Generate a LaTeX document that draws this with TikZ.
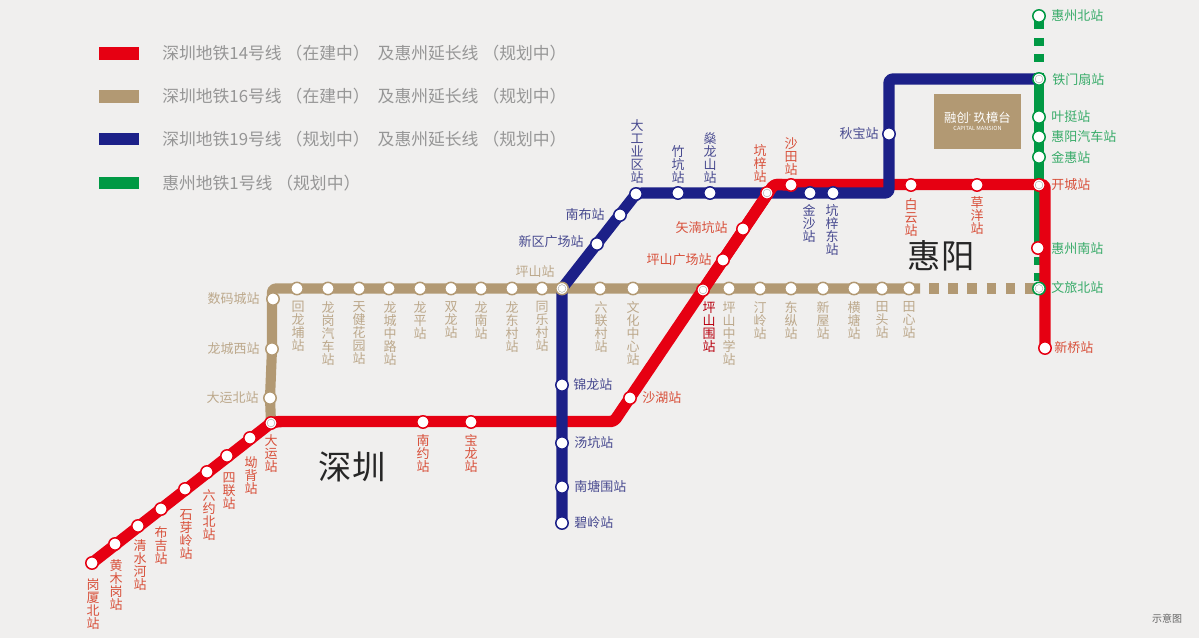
\documentclass[tikz,border=0pt]{standalone}
\usepackage{fontspec}
\setmainfont{Noto Sans CJK SC}
\usetikzlibrary{backgrounds}
\pgfdeclarelayer{lines}
\pgfsetlayers{background,lines,main}
\definecolor{bgc}{HTML}{F0EFEE}
\definecolor{redc}{HTML}{E60012}
\definecolor{tanc}{HTML}{B29973}
\definecolor{bluec}{HTML}{1C2088}
\definecolor{greenc}{HTML}{009944}
\definecolor{redt}{HTML}{D8503A}
\definecolor{tant}{HTML}{BCA88B}
\definecolor{bluet}{HTML}{47498F}
\definecolor{greent}{HTML}{38AB69}
\definecolor{legt}{HTML}{969696}
\newcommand{\labfont}{\fontsize{9.75}{9.75}\selectfont\lineskiplimit=-20pt\relax}
\tikzset{
  sta/.style={circle,fill=white,draw=#1,line width=1.15pt,minimum size=9.3pt,inner sep=0pt},
  xsta/.style={sta=#1,path picture={\draw[black!35,line width=.35pt] (path picture bounding box.center) circle (2.9pt);}},
  lab/.style={inner sep=0pt,font=\labfont,align=center,text=#1},
  vlab/.style={lab=#1,anchor=north,yshift=-1pt},
  blab/.style={lab=#1,anchor=south},
  rlab/.style={lab=#1,anchor=east},
  llab/.style={lab=#1,anchor=west},
  redline/.style={draw=redc,line width=8.6pt,line join=round,rounded corners=2.5pt},
  tanline/.style={draw=tanc,line width=7.6pt,line join=round,rounded corners=2.5pt},
  blueline/.style={draw=bluec,line width=8.4pt,line join=round,rounded corners=2.5pt},
  greenline/.style={draw=greenc,line width=7.4pt},
  swatch/.style={inner sep=0pt,minimum width=30pt,minimum height=9.6pt,anchor=west},
  legend/.style={inner sep=0pt,anchor=west,text=legt,font=\fontsize{12.6}{12.6}\selectfont},
  city/.style={inner sep=0pt,text=black!85,font=\fontsize{25}{25}\selectfont},
}
\begin{document}
\begin{tikzpicture}[x=0.75pt,y=-0.75pt]
\useasboundingbox (0,0) rectangle (1199,638);
\begin{pgfonlayer}{background}
\fill[bgc] (0,0) rectangle (1199,638);
\end{pgfonlayer}

% legend
\node[swatch,fill=redc] (k1) at (99,53.5) {};
\node[swatch,fill=tanc] (k2) at (99,96.5) {};
\node[swatch,fill=bluec] (k3) at (99,139) {};
\node[swatch,fill=greenc] (k4) at (99,183) {};
\node[legend] (t1) at (162,53) {深圳地铁14号线\kern3pt（在建中）\kern6pt及惠州延长线\kern3pt（规划中）};
\node[legend] (t2) at (162,96) {深圳地铁16号线\kern3pt（在建中）\kern6pt及惠州延长线\kern3pt（规划中）};
\node[legend] (t3) at (162,139) {深圳地铁19号线\kern3pt（规划中）\kern6pt及惠州延长线\kern3pt（规划中）};
\node[legend] (t4) at (162,183) {惠州地铁1号线\kern3pt（规划中）};

% logo
\node[fill=tanc,minimum width=65.25pt,minimum height=41.25pt,inner sep=0pt] (logo) at (977.5,121.5) {};
\node[inner sep=0pt,text=white,font=\fontsize{9.3}{9.3}\selectfont] (logo1) at (977.5,118) {融创\raisebox{3pt}{\fontsize{4}{4}\selectfont °} 玖樟台};
\node[inner sep=0pt,text=white,font=\fontsize{4.2}{4.2}\selectfont] (logo2) at (977.5,128.5) {CAPITAL MANSION};

% cities
\node[city] (sz) at (352,467) {深圳};
\node[city] (hy) at (941,256) {惠阳};
\node[inner sep=0pt,text=black!60,font=\fontsize{7.5}{7.5}\selectfont] (note) at (1167,619) {示意图};

% red stations
\node[sta=redc] (gx) at (92,563) {};
\node[sta=redc] (hm) at (115,544) {};
\node[sta=redc] (qs) at (138,526) {};
\node[sta=redc] (bj) at (161,509) {};
\node[sta=redc] (sy) at (185,489) {};
\node[sta=redc] (ly) at (207,472) {};
\node[sta=redc] (sl) at (227,456) {};
\node[sta=redc] (ab) at (250,438) {};
\node[xsta=redc] (dy) at (271,423) {};
\node[sta=redc] (ny) at (423,422) {};
\node[sta=redc] (bl) at (471,422) {};
\node[sta=redc] (sh) at (630,398) {};
\node[xsta=redc] (pw) at (703,290) {};
\node[sta=redc] (pg) at (723,260) {};
\node[sta=redc] (sn) at (743,229) {};
\node[xsta=redc] (kz) at (767,193) {};
\node[sta=redc] (st) at (791,185) {};
\node[sta=redc] (by) at (911,185) {};
\node[sta=redc] (cy) at (977,185) {};
\node[xsta=redc] (kc) at (1039,185) {};
\node[sta=redc] (hn) at (1038,248) {};
\node[sta=redc] (xq) at (1045,348) {};

% tan stations
\node[sta=tanc] (sm) at (273,299) {};
\node[sta=tanc] (lx) at (272,349) {};
\node[sta=tanc] (db) at (270,398) {};
\node[sta=tanc] (hl) at (297,288.5) {};
\node[sta=tanc] (lq) at (328,288.5) {};
\node[sta=tanc] (tj) at (359,288.5) {};
\node[sta=tanc] (lc) at (389,288.5) {};
\node[sta=tanc] (lp) at (420,288.5) {};
\node[sta=tanc] (sg) at (451,288.5) {};
\node[sta=tanc] (ln) at (481,288.5) {};
\node[sta=tanc] (ld) at (512,288.5) {};
\node[sta=tanc] (tl) at (542,288.5) {};
\node[xsta=tanc] (ps) at (562,288.5) {};
\node[sta=tanc] (lh) at (600,288.5) {};
\node[sta=tanc] (wh) at (633,288.5) {};
\node[sta=tanc] (pz) at (729,288.5) {};
\node[sta=tanc] (tg) at (760,288.5) {};
\node[sta=tanc] (dz) at (791,288.5) {};
\node[sta=tanc] (xw) at (823,288.5) {};
\node[sta=tanc] (ht) at (854,288.5) {};
\node[sta=tanc] (tt) at (882,288.5) {};
\node[sta=tanc] (tx) at (909,288.5) {};

% blue stations
\node[sta=bluec] (bi) at (562,523) {};
\node[sta=bluec] (nt) at (562,487) {};
\node[sta=bluec] (tk) at (562,443) {};
\node[sta=bluec] (jl) at (562,385) {};
\node[sta=bluec] (xq2) at (597,244) {};
\node[sta=bluec] (nb) at (620,215) {};
\node[sta=bluec] (dg) at (636,194) {};
\node[sta=bluec] (zk) at (678,193) {};
\node[sta=bluec] (sl2) at (710,193) {};
\node[sta=bluec] (js) at (810,193) {};
\node[sta=bluec] (kd) at (833,193) {};
\node[sta=bluec] (qb) at (889,134) {};

% green stations
\node[sta=greenc] (hb) at (1039,16) {};
\node[xsta=greenc] (tm) at (1039,79) {};
\node[sta=greenc] (yt) at (1039,117) {};
\node[sta=greenc] (hq) at (1039,137) {};
\node[sta=greenc] (jh) at (1039,157) {};
\node[xsta=greenc] (wl) at (1039,288.5) {};

% helper points on the lines
\coordinate (rA) at (278,421.5);
\coordinate (rB) at (614,421.5);
\coordinate (rC) at (774,184.5);
\coordinate (rD) at (1045,184.5);
\coordinate (aC) at (272,288.5);
\coordinate (aE) at (920,288.5);
\coordinate (aF) at (929,288.5);
\coordinate (bA) at (639,193);
\coordinate (bB) at (889,193);
\coordinate (bC) at (889,79);
\coordinate (gA) at (1039,29);
\coordinate (gB) at (1039,38);
\coordinate (gC) at (1039,62);
\coordinate (gD) at (1039,73);
\coordinate (gE) at (1039,243);
\coordinate (gF) at (1039,257);

\begin{pgfonlayer}{lines}
  \draw[tanline] (dy.center) -- (db.center) -- (lx.center) -- (aC) -- (aE);
  \draw[tanline,rounded corners=0pt,dash pattern=on 7.2pt off 7.2pt] (aF) -- (wl.center);
  \draw[greenline] (hb.center) -- (gA);
  \draw[greenline,dash pattern=on 6pt off 6pt] (gB) -- (gC);
  \draw[greenline] (gD) -- (gE);
  \draw[greenline,dash pattern=on 6pt off 6pt] (gF) -- (wl.center);
  \draw[redline] (gx.center) -- (dy.center) -- (rA) -- (rB) -- (rC) -- (rD) -- (xq.center);
  \draw[blueline] (bi.center) -- (ps.center) -- (dg.center) -- (bA) -- (bB) -- (bC) -- (tm.center);
  \draw[redline] (pw.center) -- (rC) -- (st.center);
\end{pgfonlayer}

% red labels
\node[vlab=redt] (Lgx) at (93,577) {岗\\厦\\北\\站};
\node[vlab=redt] (Lhm) at (116,558) {黄\\木\\岗\\站};
\node[vlab=redt] (Lqs) at (140,538) {清\\水\\河\\站};
\node[vlab=redt] (Lbj) at (161,525) {布\\吉\\站};
\node[vlab=redt] (Lsy) at (186,508) {石\\芽\\岭\\站};
\node[vlab=redt] (Lly) at (209,488) {六\\约\\北\\站};
\node[vlab=redt] (Lsl) at (229,471) {四\\联\\站};
\node[vlab=redt] (Lab) at (251,455) {坳\\背\\站};
\node[vlab=redt] (Ldy) at (271,433) {大\\运\\站};
\node[vlab=redt] (Lny) at (423,433) {南\\约\\站};
\node[vlab=redt] (Lbl) at (471,433) {宝\\龙\\站};
\node[llab=redt] (Lsh) at (642,398) {沙湖站};
\node[vlab=redc!80!black] (Lpw) at (709,300) {坪\\山\\围\\站};
\node[rlab=redt] (Lpg) at (712,260) {坪山广场站};
\node[rlab=redt] (Lsn) at (728,228) {矢湳坑站};
\node[blab=redt] (Lkz) at (760,183) {坑\\梓\\站};
\node[blab=redt] (Lst) at (791,176) {沙\\田\\站};
\node[vlab=redt] (Lby) at (911,197) {白\\云\\站};
\node[vlab=redt] (Lcy) at (977,195) {草\\洋\\站};
\node[llab=redt] (Lkc) at (1051,185) {开城站};
\node[llab=greent] (Lhn) at (1051,249) {惠州南站};
\node[llab=redt] (Lxq) at (1054,348) {新桥站};

% tan labels
\node[rlab=tant] (Lsm) at (260,299) {数码城站};
\node[rlab=tant] (Llx) at (260,349) {龙城西站};
\node[rlab=tant] (Ldb) at (259,398) {大运北站};
\node[vlab=tant] (Lhl) at (298,300) {回\\龙\\埔\\站};
\node[vlab=tant] (Llq) at (328,300) {龙\\岗\\汽\\车\\站};
\node[vlab=tant] (Ltj) at (359,300) {天\\健\\花\\园\\站};
\node[vlab=tant] (Llc) at (390,300) {龙\\城\\中\\路\\站};
\node[vlab=tant] (Llp) at (420,300) {龙\\平\\站};
\node[vlab=tant] (Lsg) at (451,300) {双\\龙\\站};
\node[vlab=tant] (Lln) at (481,300) {龙\\南\\站};
\node[vlab=tant] (Lld) at (512,300) {龙\\东\\村\\站};
\node[vlab=tant] (Ltl) at (542,300) {同\\乐\\村\\站};
\node[rlab=tant] (Lps) at (555,272) {坪山站};
\node[vlab=tant] (Llh) at (601,300) {六\\联\\村\\站};
\node[vlab=tant] (Lwh) at (633,300) {文\\化\\中\\心\\站};
\node[vlab=tant] (Lpz) at (729,300) {坪\\山\\中\\学\\站};
\node[vlab=tant] (Ltg) at (760,300) {汀\\岭\\站};
\node[vlab=tant] (Ldz) at (791,300) {东\\纵\\站};
\node[vlab=tant] (Lxw) at (823,300) {新\\屋\\站};
\node[vlab=tant] (Lht) at (854,300) {横\\塘\\站};
\node[vlab=tant] (Ltt) at (882,300) {田\\头\\站};
\node[vlab=tant] (Ltx) at (909,300) {田\\心\\站};

% blue labels
\node[llab=bluet] (Lbi) at (574,523) {碧岭站};
\node[llab=bluet] (Lnt) at (574,487) {南塘围站};
\node[llab=bluet] (Ltk) at (574,443) {汤坑站};
\node[llab=bluet] (Ljl) at (573,385) {锦龙站};
\node[rlab=bluet] (Lxq2) at (584,242) {新区广场站};
\node[rlab=bluet] (Lnb) at (605,215) {南布站};
\node[blab=bluet] (Ldg) at (637,184) {大\\工\\业\\区\\站};
\node[blab=bluet] (Lzk) at (678,184) {竹\\坑\\站};
\node[blab=bluet] (Lsl2) at (710,184) {燊\\龙\\山\\站};
\node[vlab=bluet] (Ljs) at (809,203) {金\\沙\\站};
\node[vlab=bluet] (Lkd) at (832,203) {坑\\梓\\东\\站};
\node[rlab=bluet] (Lqb) at (879,134) {秋宝站};

% green labels
\node[llab=greent] (Lhb) at (1051,16) {惠州北站};
\node[llab=greent] (Ltm) at (1052,80) {铁门扇站};
\node[llab=greent] (Lyt) at (1051,117) {叶挺站};
\node[llab=greent] (Lhq) at (1051,137) {惠阳汽车站};
\node[llab=greent] (Ljh) at (1051,157) {金惠站};
\node[llab=greent] (Lwl) at (1051,288) {文旅北站};
\end{tikzpicture}
\end{document}
